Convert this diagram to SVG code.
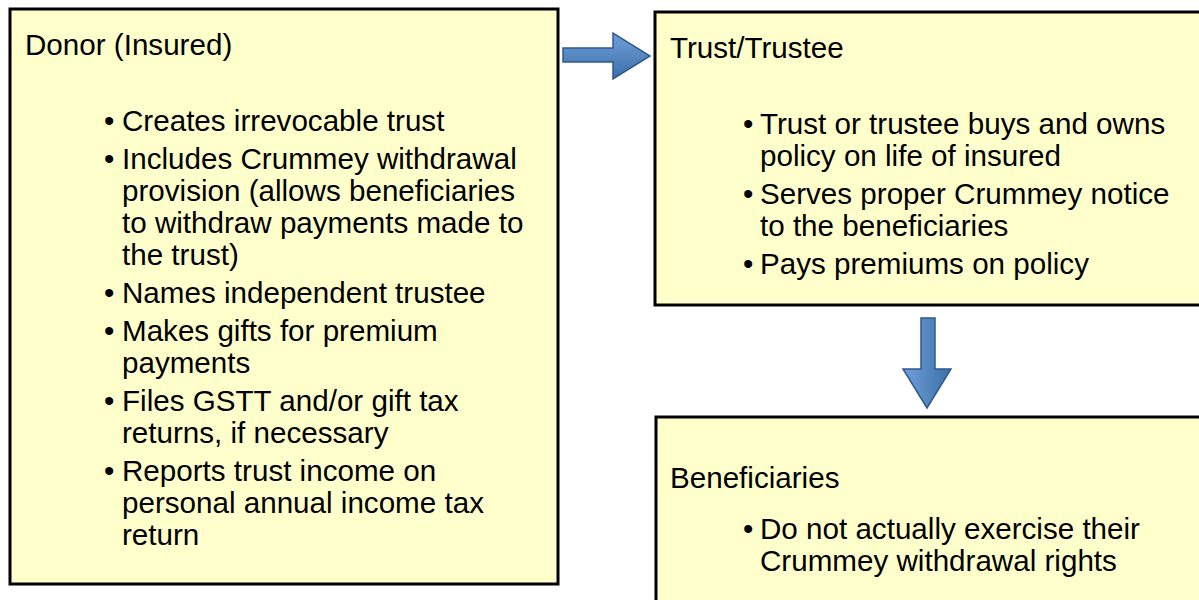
<svg xmlns="http://www.w3.org/2000/svg" width="1199" height="600" viewBox="0 0 1199 600">
<style>
.box{fill:#FFFFCC;stroke:#000;stroke-width:3}
text{font-family:"Liberation Sans",Arial,sans-serif;font-size:29.6px;fill:#000}
.arrow{stroke:#2F5A8C;stroke-width:1.5;stroke-linejoin:miter}
</style>
<defs>
<linearGradient id="gh" x1="0" y1="0" x2="0" y2="1">
<stop offset="0" stop-color="#6FA0DA"/><stop offset="1" stop-color="#3C6EA8"/>
</linearGradient>
<linearGradient id="gv" x1="0" y1="0" x2="1" y2="0">
<stop offset="0" stop-color="#6FA0DA"/><stop offset="1" stop-color="#3C6EA8"/>
</linearGradient>
</defs>
<g id="donor">
<rect class="box" x="10" y="9" width="548" height="575"/>
<text x="25" y="55">Donor (Insured)</text>
<text x="104" y="131">•</text><text x="122" y="131">Creates irrevocable trust</text>
<text x="104" y="169">•</text><text x="122" y="169">Includes Crummey withdrawal</text>
<text x="122" y="201">provision (allows beneficiaries</text>
<text x="122" y="233">to withdraw payments made to</text>
<text x="122" y="265">the trust)</text>
<text x="104" y="303">•</text><text x="122" y="303">Names independent trustee</text>
<text x="104" y="341">•</text><text x="122" y="341">Makes gifts for premium</text>
<text x="122" y="373">payments</text>
<text x="104" y="411">•</text><text x="122" y="411">Files GSTT and/or gift tax</text>
<text x="122" y="443">returns, if necessary</text>
<text x="104" y="481">•</text><text x="122" y="481">Reports trust income on</text>
<text x="122" y="513">personal annual income tax</text>
<text x="122" y="545">return</text>
</g>
<g id="trust">
<rect class="box" x="655" y="12" width="560" height="293"/>
<text x="670" y="58">Trust/Trustee</text>
<text x="743" y="134">•</text><text x="760" y="134">Trust or trustee buys and owns</text>
<text x="760" y="166">policy on life of insured</text>
<text x="743" y="204">•</text><text x="760" y="204">Serves proper Crummey notice</text>
<text x="760" y="236">to the beneficiaries</text>
<text x="743" y="274">•</text><text x="760" y="274">Pays premiums on policy</text>
</g>
<g id="beneficiaries">
<rect class="box" x="656" y="417" width="560" height="200"/>
<text x="670" y="488">Beneficiaries</text>
<text x="743" y="539">•</text><text x="760" y="539">Do not actually exercise their</text>
<text x="760" y="571">Crummey withdrawal rights</text>
</g>
<g id="connectors">
<path class="arrow" fill="url(#gh)" d="M563,48 H613 V33 L650,56 L613,79 V62 H563 Z"/>
<path class="arrow" fill="url(#gv)" d="M921,318 H935 V369 H951 L927,408 L903,369 H921 Z"/>
</g>
</svg>
